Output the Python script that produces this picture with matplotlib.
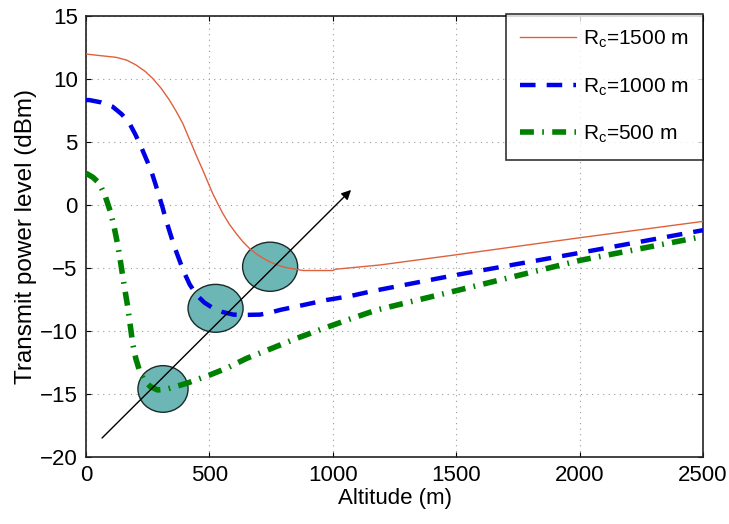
import numpy as np
import matplotlib
matplotlib.use('Agg')
import matplotlib.pyplot as plt
from matplotlib.patches import Ellipse

plt.rcParams['font.family'] = ['Liberation Sans', 'DejaVu Sans']

# courbes
alt_1500 = [0, 60, 122, 165, 203, 240, 270, 305, 338, 365, 392, 412, 432, 452, 473, 493,
            513, 534, 554, 580, 608, 635, 662, 695, 729, 765, 797, 825, 851, 880, 1000,
            1010, 1191, 1500, 2000, 2500]
pw_1500 = [11.98, 11.85, 11.72, 11.5, 11.11, 10.6, 10.05, 9.25, 8.33, 7.45, 6.48, 5.55,
           4.63, 3.7, 2.78, 1.85, 0.93, 0.1, -0.66, -1.5, -2.25, -2.9, -3.44, -3.95, -4.36,
           -4.68, -4.9, -5.02, -5.1, -5.2, -5.2, -5.1, -4.76, -3.95, -2.6, -1.3]

alt_1000 = [0, 13, 60, 108, 145, 176, 200, 223, 243, 263, 280, 297, 311, 324, 341, 358,
            378, 394, 420, 448, 480, 516, 555, 597, 650, 705, 745, 786, 880, 975, 1070,
            1164, 1500, 2000, 2500]
pw_1000 = [8.33, 8.33, 8.15, 7.8, 7.2, 6.48, 5.6, 4.63, 3.7, 2.78, 1.75, 0.67, -0.25,
           -1.18, -2.25, -3.3, -4.35, -5.2, -6.3, -7.14, -7.75, -8.2, -8.5, -8.7, -8.72,
           -8.7, -8.55, -8.33, -7.94, -7.54, -7.23, -6.82, -5.55, -3.8, -2.0]

alt_500 = [0, 28, 54, 78, 101, 115, 128, 139, 149, 159, 169, 179, 189, 202, 216, 235,
           260, 290, 330, 365, 408, 450, 500, 570, 651, 750, 854, 962, 1070, 1178, 1500,
           2000, 2500]
pw_500 = [2.52, 2.2, 1.72, 0.7, -0.66, -1.85, -3.1, -4.4, -5.68, -6.9, -8.07, -9.5,
          -10.98, -12.2, -13.1, -13.9, -14.4, -14.68, -14.6, -14.4, -14.15, -13.85, -13.5,
          -12.95, -12.17, -11.4, -10.58, -9.8, -9.05, -8.33, -6.8, -4.4, -2.5]

# ellipses (centre x, centre y, largeur, hauteur)
ell_x = [312, 525, 746]
ell_y = [-14.6, -8.2, -4.9]
ell_w = [203, 223, 223]
ell_h = [3.7, 3.8, 3.9]

fig = plt.figure(figsize=(7.29, 5.24), dpi=100)
ax = fig.add_axes([86/729, 1-457/524, (703-86)/729, (457-16)/524])

for i in range(3):
    e = Ellipse((ell_x[i], ell_y[i]), ell_w[i], ell_h[i], facecolor='#6cb7b5',
                edgecolor='#1a2a2a', linewidth=1.0, zorder=2)
    ax.add_patch(e)

ax.plot(alt_1500, pw_1500, color='#e0603c', linewidth=1.0, label=r'R$_\mathregular{c}$=1500 m', zorder=3)
ax.plot(alt_1000, pw_1000, color='#0000e6', linewidth=3.2, linestyle=(0, (3.5, 2.5)),
        label=r'R$_\mathregular{c}$=1000 m', zorder=3)
ax.plot(alt_500, pw_500, color='#008000', linewidth=4.0, linestyle=(0, (2.5, 1.5, 0.3, 1.5)),
        label=r'R$_\mathregular{c}$=500 m', zorder=3)

ax.annotate('', xy=(1082, 1.35), xytext=(57, -18.65),
            arrowprops=dict(arrowstyle='-|>', color='black', lw=1.0, mutation_scale=14), zorder=4)

ax.set_xlim(0, 2500)
ax.set_ylim(-20, 15)
ax.set_xticks([0, 500, 1000, 1500, 2000, 2500])
ax.set_yticks([-20, -15, -10, -5, 0, 5, 10, 15])
ax.grid(True, linestyle=(0, (1, 4)), color='#999999', linewidth=0.8)
ax.tick_params(direction='in', top=True, right=True, labelsize=16, pad=6)
for s in ax.spines.values():
    s.set_linewidth(1.2)
    s.set_color('#222222')

ax.set_xlabel('Altitude (m)', fontsize=16, labelpad=1)
ax.set_ylabel('Transmit power level (dBm)', fontsize=17.5, labelpad=2)

leg = ax.legend(loc='upper right', fontsize=15, frameon=True, fancybox=False,
                edgecolor='black', handlelength=2.7, borderaxespad=0.0,
                bbox_to_anchor=(1.0, 1.005), labelspacing=1.25, borderpad=0.7,
                handletextpad=0.3)
leg.get_frame().set_linewidth(1.2)

fig.savefig('out.png', dpi=100)
